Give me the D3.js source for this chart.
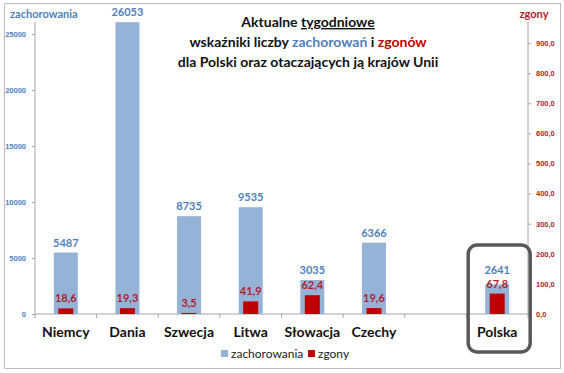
<!DOCTYPE html>
<html>
<head>
<meta charset="utf-8">
<script src="https://cdn.jsdelivr.net/npm/d3@7"></script>
<style>
  body { margin: 0; background: #fff; }
  svg { display: block; font-family: Lato, "Open Sans", sans-serif; }
</style>
</head>
<body>
<div id="chart"></div>
<script>
const WIDTH = 564;
const HEIGHT = 373;

// data
const countries = ['Niemcy', 'Dania', 'Szwecja', 'Litwa', 'Słowacja', 'Czechy', '', 'Polska'];
const cases = [5487, 26053, 8735, 9535, 3035, 6366, null, 2641];
const deaths = [18.6, 19.3, 3.5, 41.9, 62.4, 19.6, null, 67.8];
const caseTicks = [0, 5000, 10000, 15000, 20000, 25000];
const deathTicks = [0, 100, 200, 300, 400, 500, 600, 700, 800, 900];

const BLUE = '#95b3d7';
const BLUE_TEXT = '#4f81bd';
const RED = '#c00000';
const RED_TEXT = '#b01c2e';

function translate(x, y) {
  return `translate(${x}, ${y})`;
}

const fmtComma = (d, n) => d.toFixed(n).replace('.', ',');

const svg = d3.select('#chart').append('svg')
  .attr('width', WIDTH)
  .attr('height', HEIGHT);

// outer frame
svg.append('rect')
  .attr('x', 4.5).attr('y', 3.5)
  .attr('width', 556).attr('height', 365)
  .attr('fill', 'none')
  .attr('stroke', '#bfbfbf')
  .attr('stroke-width', 1);

const margin = {top: 22, right: 36, bottom: 59, left: 35};
const w = WIDTH - margin.left - margin.right;
const h = HEIGHT - margin.top - margin.bottom;

const g = svg.append('g').attr('transform', translate(margin.left, margin.top));

const x = d3.scaleBand().domain(countries.map((c, i) => i)).range([0, w]);
const yL = d3.scaleLinear().domain([0, 26070]).range([h, 0]);
const yR = d3.scaleLinear().domain([0, 970]).range([h, 0]);

// left axis
const leftAxis = g.append('g')
  .call(d3.axisLeft(yL).tickValues(caseTicks).tickSize(3).tickPadding(6)
    .tickFormat(d3.format('d')));
leftAxis.select('.domain').attr('stroke', '#a6a6a6').attr('d', `M0,0V${h}`);
leftAxis.selectAll('.tick line').attr('stroke', '#a6a6a6');
leftAxis.selectAll('.tick text')
  .attr('fill', BLUE_TEXT).attr('font-size', 7.5).attr('font-weight', 'bold');

// right axis
const rightAxis = g.append('g')
  .attr('transform', translate(w, 0))
  .call(d3.axisRight(yR).tickValues(deathTicks).tickSize(3).tickPadding(5)
    .tickFormat(d => fmtComma(d, 1)));
rightAxis.select('.domain').attr('stroke', '#a6a6a6').attr('d', `M0,0V${h}`);
rightAxis.selectAll('.tick line').attr('stroke', '#a6a6a6');
rightAxis.selectAll('.tick text')
  .attr('fill', RED_TEXT).attr('font-size', 7.5).attr('font-weight', 'bold');

// x axis
g.append('line')
  .attr('x1', 0).attr('x2', w).attr('y1', h).attr('y2', h)
  .attr('stroke', '#a6a6a6');
g.selectAll('.xtick').data(d3.range(countries.length + 1)).enter().append('line')
  .attr('x1', i => i * x.step()).attr('x2', i => i * x.step())
  .attr('y1', h).attr('y2', h + 4)
  .attr('stroke', '#a6a6a6');

g.selectAll('.cat').data(countries).enter().append('text')
  .attr('x', (d, i) => x(i) + x.bandwidth() / 2)
  .attr('y', h + 23)
  .attr('text-anchor', 'middle')
  .attr('font-size', 14)
  .attr('font-weight', 'bold')
  .attr('fill', '#111')
  .text(d => d);

const idx = countries.map((c, i) => i).filter(i => cases[i] != null);

// bars
const bw = 24, rw = 15;
g.selectAll('.case').data(idx).enter().append('rect')
  .attr('x', i => x(i) + x.bandwidth() / 2 - bw / 2)
  .attr('y', i => yL(cases[i]))
  .attr('width', bw)
  .attr('height', i => h - yL(cases[i]))
  .attr('fill', BLUE);

g.selectAll('.death').data(idx).enter().append('rect')
  .attr('x', i => x(i) + x.bandwidth() / 2 - rw / 2)
  .attr('y', i => yR(deaths[i]))
  .attr('width', rw)
  .attr('height', i => h - yR(deaths[i]))
  .attr('fill', RED);

// labels (case label kept above the death label when bars are short)
g.selectAll('.caseLbl').data(idx).enter().append('text')
  .attr('x', i => x(i) + x.bandwidth() / 2)
  .attr('y', i => Math.min(yL(cases[i]) - 6, yR(deaths[i]) - 20))
  .attr('text-anchor', 'middle')
  .attr('font-size', 11)
  .attr('font-weight', 'bold')
  .attr('fill', BLUE_TEXT)
  .text(i => cases[i]);

g.selectAll('.deathLbl').data(idx).enter().append('text')
  .attr('x', i => x(i) + x.bandwidth() / 2)
  .attr('y', i => yR(deaths[i]) - 6)
  .attr('text-anchor', 'middle')
  .attr('font-size', 11)
  .attr('font-weight', 'bold')
  .attr('fill', RED_TEXT)
  .text(i => fmtComma(deaths[i], 1));

// highlight box around Polska
const pi = countries.indexOf('Polska');
g.append('rect')
  .attr('x', x(pi) + x.bandwidth() / 2 - 29)
  .attr('y', 223)
  .attr('width', 62)
  .attr('height', 107)
  .attr('rx', 9)
  .attr('fill', 'none')
  .attr('stroke', '#595959')
  .attr('stroke-width', 3.5);

// axis titles
svg.append('text')
  .attr('x', 10).attr('y', 18)
  .attr('font-size', 11).attr('font-weight', 'bold')
  .attr('fill', BLUE_TEXT)
  .text('zachorowania');
svg.append('text')
  .attr('x', 534).attr('y', 18)
  .attr('text-anchor', 'middle')
  .attr('font-size', 11).attr('font-weight', 'bold')
  .attr('fill', RED_TEXT)
  .text('zgony');

// title
const title = svg.append('text')
  .attr('text-anchor', 'middle')
  .attr('font-size', 14)
  .attr('font-weight', 'bold')
  .attr('fill', '#111');
const t1 = title.append('tspan').attr('x', 308).attr('y', 27);
t1.append('tspan').text('Aktualne ');
t1.append('tspan').attr('text-decoration', 'underline').text('tygodniowe');
const t2 = title.append('tspan').attr('x', 308).attr('y', 47);
t2.append('tspan').text('wskaźniki liczby ');
t2.append('tspan').attr('fill', BLUE_TEXT).text('zachorowań');
t2.append('tspan').text(' i ');
t2.append('tspan').attr('fill', RED).text('zgonów');
title.append('tspan').attr('x', 308).attr('y', 67)
  .text('dla Polski oraz otaczających ją krajów Unii');

// legend
const legendItems = [['zachorowania', BLUE], ['zgony', RED]];
const legend = svg.append('g').attr('transform', translate(221, 354));
const lx = [0, 87];
legendItems.forEach(([name, col], i) => {
  const item = legend.append('g').attr('transform', translate(lx[i], 0));
  item.append('rect').attr('x', 0).attr('y', -4).attr('width', 7).attr('height', 7).attr('fill', col);
  item.append('text').attr('x', 10).attr('y', 4)
    .attr('font-size', 12).attr('fill', '#222').text(name);
});
</script>
</body>
</html>
